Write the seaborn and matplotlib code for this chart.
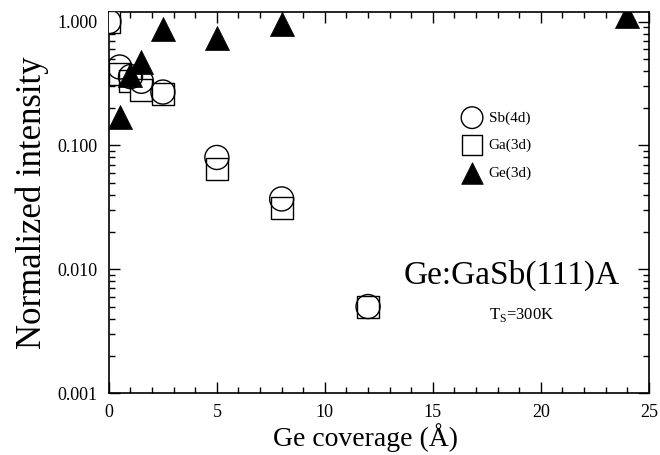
import matplotlib
matplotlib.use("Agg")
import matplotlib.pyplot as plt
import seaborn as sns
import pandas as pd
import numpy as np
from matplotlib.ticker import FixedLocator, NullFormatter, MultipleLocator, LogLocator

sns.set_theme(style="ticks")
plt.rcParams['font.family'] = ['Liberation Serif', 'DejaVu Serif']
plt.rcParams['mathtext.fontset'] = 'custom'
plt.rcParams['mathtext.rm'] = 'Liberation Serif'
plt.rcParams['text.color'] = 'black'
plt.rcParams['axes.labelcolor'] = 'black'

sb_x = [0, 0.5, 1, 1.5, 2.5, 5, 8, 12]
sb_y = [1.0, 0.43, 0.36, 0.33, 0.27, 0.08, 0.037, 0.005]
ga_x = [0, 0.5, 1, 1.5, 2.5, 5, 8, 12]
ga_y = [1.0, 0.38, 0.33, 0.28, 0.26, 0.065, 0.031, 0.005]
ge_x = [0.5, 1, 1.5, 2.5, 5, 8, 24]
ge_y = [0.17, 0.37, 0.475, 0.88, 0.74, 0.95, 1.12]
labels = ["Sb(4d)", "Ga(3d)", "Ge(3d)"]
yticks = [0.001, 0.010, 0.100, 1.000]
ytick_labels = ["0.001", "0.010", "0.100", "1.000"]
xticks = [0, 5, 10, 15, 20, 25]

fig = plt.figure(figsize=(6.6, 4.55), dpi=100)
ax = fig.add_axes([0.165, 0.136, 0.818, 0.838])

df_sb = pd.DataFrame({"x": sb_x, "y": sb_y})
df_ga = pd.DataFrame({"x": ga_x, "y": ga_y})
df_ge = pd.DataFrame({"x": ge_x, "y": ge_y})

sns.scatterplot(data=df_ga, x="x", y="y", marker="s", s=260, facecolor="white",
                edgecolor="black", linewidth=1.0, ax=ax, label=labels[1], zorder=3)
sns.scatterplot(data=df_sb, x="x", y="y", marker="o", s=300, facecolor="none",
                edgecolor="black", linewidth=1.0, ax=ax, label=labels[0], zorder=4)
sns.scatterplot(data=df_ge, x="x", y="y", marker="^", s=300, color="black",
                edgecolor="black", linewidth=0.5, ax=ax, label=labels[2], zorder=5)

ax.set_yscale("log")
ax.set_xlim(0, 25)
ax.set_ylim(0.001, 1.2)
ax.set_xticks(xticks)
ax.set_xticklabels([str(v) for v in xticks])
ax.xaxis.set_minor_locator(MultipleLocator(1))
ax.yaxis.set_major_locator(FixedLocator(yticks))
ax.set_yticklabels(ytick_labels)
ax.yaxis.set_minor_locator(LogLocator(base=10, subs=np.arange(2, 10)))
ax.yaxis.set_minor_formatter(NullFormatter())
ax.tick_params(which="both", direction="in", top=True, right=True, colors="black",
               labelsize=13, pad=8)
ax.tick_params(which="major", length=8, width=1)
ax.tick_params(which="minor", length=4, width=1)
for sp in ax.spines.values():
    sp.set_linewidth(1.2)
    sp.set_color("black")

ax.set_xlabel("Ge coverage (Å)", fontsize=20, labelpad=1, x=0.475)
ax.set_ylabel("Normalized intensity", fontsize=25, labelpad=6)

h, l = ax.get_legend_handles_labels()
order = [1, 0, 2]
ax.legend([h[i] for i in order], [l[i] for i in order], loc="upper left",
          bbox_to_anchor=(0.633, 0.756), frameon=False, fontsize=11,
          handletextpad=0.1, labelspacing=0.9, markerscale=0.9, borderaxespad=0)

ax.text(0.946, 0.31, "Ge:GaSb(111)A", transform=ax.transAxes, fontsize=24,
        ha="right", va="center")
ax.text(0.765, 0.205, r"T$_{\rm S}$=300K", transform=ax.transAxes, fontsize=12,
        ha="center", va="center")

fig.savefig("out.png", dpi=100)
